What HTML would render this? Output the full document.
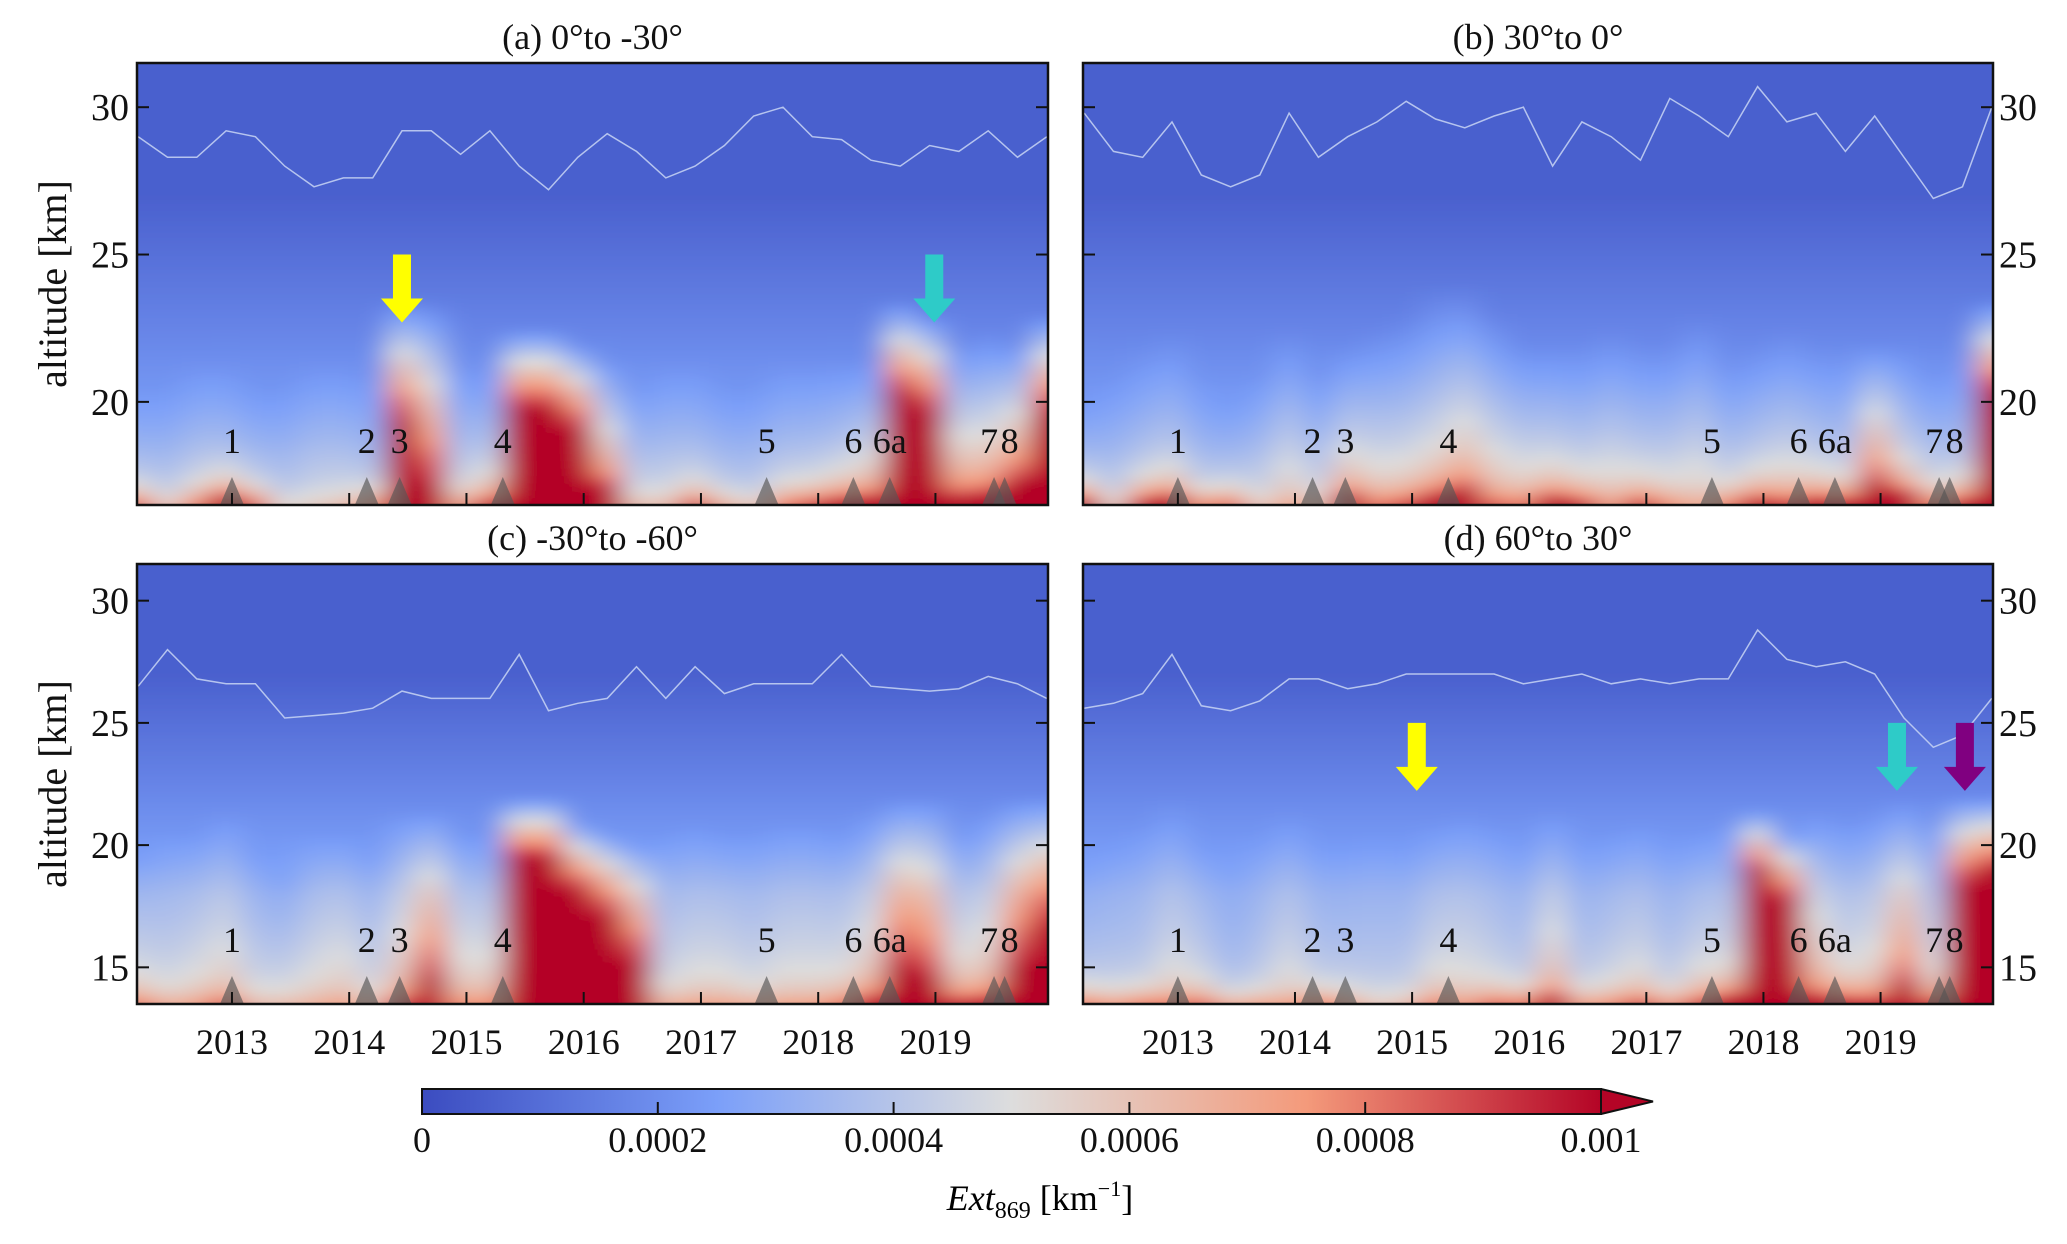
<!DOCTYPE html>
<html><head><meta charset="utf-8"><style>
html,body{margin:0;padding:0;background:#fff;}
svg{display:block;font-family:"Liberation Serif","DejaVu Serif",serif;}
</style></head><body>
<svg id="fig" width="2067" height="1244" viewBox="0 0 2067 1244">
<defs>
<filter id="blur" x="-5%" y="-5%" width="110%" height="110%"><feGaussianBlur stdDeviation="14 5"/></filter>
<linearGradient id="cbgrad" x1="0" x2="1" y1="0" y2="0">
<stop offset="0" stop-color="#3b4cc0"/><stop offset="0.25" stop-color="#7b9ff9"/><stop offset="0.5" stop-color="#dddddd"/><stop offset="0.75" stop-color="#f49a7b"/><stop offset="1" stop-color="#b40426"/>
</linearGradient>
</defs>
<g id="panels"></g>
<g id="colorbar">
<rect x="422" y="1089" width="1179" height="25" fill="url(#cbgrad)"/>
<polygon points="1601,1089 1653,1101.5 1601,1114" fill="#b40426"/>
<polyline points="1601,1089 1653,1101.5 1601,1114" fill="none" stroke="#111" stroke-width="2"/>
<rect x="422" y="1089" width="1179" height="25" fill="none" stroke="#111" stroke-width="2"/>
<text x="1040" y="1210" font-size="36" text-anchor="middle"><tspan font-style="italic">Ext</tspan><tspan font-size="24" dy="8">869</tspan><tspan dy="-8"> [km</tspan><tspan font-size="22" dy="-14">−1</tspan><tspan dy="14">]</tspan></text>
</g>
</svg>
<script>
const NS="http://www.w3.org/2000/svg";
// ---- data ----
const years=[2013,2014,2015,2016,2017,2018,2019];
const eventLabels=["1","2","3","4","5","6","6a","7","8"];
const eventTimes=[2013.0,2014.15,2014.43,2015.31,2017.56,2018.30,2018.61,2019.50,2019.59];
const cbTicks=[0,0.0002,0.0004,0.0006,0.0008,0.001];
const cbTickLabels=["0","0.0002","0.0004","0.0006","0.0008","0.001"];
const colT0=2012.2, colStep=0.25;
// panel a
const aSurf=[0.5,0.2,0.4,0.8,0.5,0.15,0.15,0.2,0.4,0.4,0.2,0.3,0.5,0.5,0.5,0.6,0.6,0.2,0.2,0.5,0.3,0.2,0.4,0.5,0.6,0.5,0.5,0.5,0.4,0.5,0.6,0.6];
const aPlume=[0.1,0.1,0.15,0.15,0.1,0.1,0.15,0.15,0.1,1.2,0.7,0.15,0.2,1.6,1.6,1.3,0.5,0.15,0.15,0.15,0.1,0.1,0.15,0.15,0.2,0.3,1.6,1.4,0.4,0.4,0.6,1.4];
const aHeight=[20.5,20.5,21.5,21.5,20.5,20.5,21.5,21.5,21,23.5,23.5,21.5,21.5,22.5,22.5,22,21.5,20.5,21.5,21.5,20.5,20.5,21.5,21.5,21.5,21.5,23.5,23,22,22.5,22,23];
const aLine=[29.0,28.3,28.3,29.2,29.0,28.0,27.3,27.6,27.6,29.2,29.2,28.4,29.2,28.0,27.2,28.3,29.1,28.5,27.6,28.0,28.7,29.7,30.0,29.0,28.9,28.2,28.0,28.7,28.5,29.2,28.3,29.0];
// panel b
const bSurf=[0.7,0.2,0.6,0.7,0.4,0.5,0.15,0.2,0.2,0.6,0.3,0.4,0.6,0.7,0.3,0.3,0.6,0.5,0.2,0.5,0.3,0.15,0.4,0.6,0.4,0.6,0.6,0.5,0.8,0.4,0.6,1.4];
const bPlume=[0.1,0.1,0.15,0.2,0.1,0.1,0.15,0.25,0.15,0.3,0.25,0.25,0.3,0.4,0.3,0.25,0.25,0.2,0.25,0.2,0.2,0.25,0.15,0.2,0.25,0.2,0.15,0.6,0.25,0.15,0.15,1.6];
const bHeight=[20,21,22,22.5,21,20,21,22.5,21,22,22.5,23,24,24,23,22,22,22,22.5,22,22,23,21.5,22,22.5,22,22,22,22,21,22,23.5];
const bLine=[29.8,28.5,28.3,29.5,27.7,27.3,27.7,29.8,28.3,29.0,29.5,30.2,29.6,29.3,29.7,30.0,28.0,29.5,29.0,28.2,30.3,29.7,29.0,30.7,29.5,29.8,28.5,29.7,28.3,26.9,27.3,30.0];
// panel c
const cSurf=[0.3,0.2,0.2,0.3,0.15,0.15,0.15,0.15,0.15,0.3,0.5,0.2,0.2,0.8,0.8,0.8,0.6,0.4,0.2,0.2,0.2,0.2,0.2,0.2,0.3,0.4,0.5,0.5,0.4,0.4,0.5,0.6];
const cPlume=[0.25,0.2,0.25,0.3,0.2,0.2,0.25,0.3,0.2,0.35,0.7,0.3,0.3,2.4,2.4,1.8,1.4,0.9,0.2,0.25,0.25,0.2,0.25,0.25,0.25,0.35,0.8,0.7,0.3,0.35,0.8,1.1];
const cHeight=[19.5,20.5,20.5,21.5,19.5,18.5,20.5,20.5,19.5,21.5,21.5,20.5,20.5,22,22,21,20.5,20,20.5,21,20.5,20.5,21,21,20.5,21.5,22,22,20.5,21.5,22,22];
const cLine=[26.5,28.0,26.8,26.6,26.6,25.2,25.3,25.4,25.6,26.3,26.0,26.0,26.0,27.8,25.5,25.8,26.0,27.3,26.0,27.3,26.2,26.6,26.6,26.6,27.8,26.5,26.4,26.3,26.4,26.9,26.6,26.0];
// panel d
const dSurf=[0.4,0.3,0.4,0.3,0.4,0.3,0.3,0.2,0.4,0.3,0.15,0.2,0.3,0.2,0.4,0.4,0.5,0.3,0.3,0.4,0.3,0.4,0.6,0.9,0.8,0.4,0.5,0.4,0.5,0.4,0.7,0.9];
const dPlume=[0.15,0.15,0.15,0.25,0.2,0.1,0.15,0.25,0.15,0.15,0.15,0.15,0.25,0.25,0.2,0.15,0.35,0.15,0.2,0.25,0.15,0.25,0.25,2.2,1.7,0.4,0.25,0.3,0.6,0.25,1.6,2.0];
const dHeight=[19,20,21,22,20,19,20.5,21.5,20,20,20.5,20,21,21.5,21,20,21.5,20,20.5,21,20,20.5,21,21.5,20.5,21.5,21,21.5,22,21,22,22];
const dLine=[25.6,25.8,26.2,27.8,25.7,25.5,25.9,26.8,26.8,26.4,26.6,27.0,27.0,27.0,27.0,26.6,26.8,27.0,26.6,26.8,26.6,26.8,26.8,28.8,27.6,27.3,27.5,27.0,25.2,24.0,24.5,26.0];

const panels=[
 {id:"a",title:"(a) 0°to -30°",x0:137,x1:1048,y0:63,y1:505,ymin:16.5,ymax:31.5,yt:[20,25,30],side:"left",surf:aSurf,plume:aPlume,height:aHeight,line:aLine,xlabels:false,
  arrows:[{t:2014.45,top:25.0,c:"#ffff00"},{t:2018.99,top:25.0,c:"#2ecbc8"}]},
 {id:"b",title:"(b) 30°to 0°",x0:1083,x1:1993,y0:63,y1:505,ymin:16.5,ymax:31.5,yt:[20,25,30],side:"right",surf:bSurf,plume:bPlume,height:bHeight,line:bLine,xlabels:false,arrows:[]},
 {id:"c",title:"(c) -30°to -60°",x0:137,x1:1048,y0:564,y1:1004,ymin:13.5,ymax:31.5,yt:[15,20,25,30],side:"left",surf:cSurf,plume:cPlume,height:cHeight,line:cLine,xlabels:true,arrows:[]},
 {id:"d",title:"(d) 60°to 30°",x0:1083,x1:1993,y0:564,y1:1004,ymin:13.5,ymax:31.5,yt:[15,20,25,30],side:"right",surf:dSurf,plume:dPlume,height:dHeight,line:dLine,xlabels:true,
  arrows:[{t:2015.04,top:25.0,c:"#ffff00"},{t:2019.14,top:25.0,c:"#2ecbc8"},{t:2019.72,top:25.0,c:"#800080"}]}
];
const tMin=2012.19,tMax=2019.96;
const stops=[[59,76,192],[123,159,249],[221,221,221],[244,154,123],[180,4,38]];
function cmap(v){let f=Math.max(0,Math.min(1,v/0.001))*4;let i=Math.min(3,Math.floor(f)),r=f-i;const a=stops[i],b=stops[i+1];
 return "rgb("+a.map((c,k)=>Math.round(c+(b[k]-c)*r)).join(",")+")";}
function mk(tag,attrs,parent){const e=document.createElementNS(NS,tag);for(const k in attrs)e.setAttribute(k,attrs[k]);parent.appendChild(e);return e;}
const root=document.getElementById("panels");
panels.forEach(p=>{
 const X=t=>p.x0+(t-tMin)/(tMax-tMin)*(p.x1-p.x0);
 const Y=a=>p.y1-(a-p.ymin)/(p.ymax-p.ymin)*(p.y1-p.y0);
 const g=mk("g",{},root);
 
 
 const cp=mk("clipPath",{id:"clip"+p.id},g);mk("rect",{x:p.x0,y:p.y0,width:p.x1-p.x0,height:p.y1-p.y0},cp);
 const hm=mk("g",{"clip-path":"url(#clip"+p.id+")"},g);
 
 
 const inner=mk("g",{filter:"url(#blur)"},hm);
 const n=p.surf.length, dz=0.25;
 for(let i=-2;i<n+2;i++){
  const k=Math.max(0,Math.min(n-1,i));
  const t=colT0+colStep*i;
  for(let a=p.ymin-1;a<p.ymax+1;a+=dz){
   const ac=a+dz/2, h=p.height[k];
   const rel=Math.max(0,ac-p.ymin);
   const bg=0.00006+0.00022*Math.max(0,Math.min(1,(27-ac)/9));
   const fr=rel/(h-p.ymin);
   const pl=fr<1?p.plume[k]*0.001*(1-fr):0;
   const sf=p.surf[k]*0.001*Math.exp(-rel/0.6);
   const v=bg+pl+sf;
   const r=mk("rect",{x:(X(t-colStep/2)-0.5).toFixed(1),y:(Y(a+dz)-0.5).toFixed(1),width:(X(t+colStep/2)-X(t-colStep/2)+1).toFixed(1),height:(Y(a)-Y(a+dz)+1).toFixed(1),fill:cmap(v)},inner);
   
   
  }
 }
 const pts=p.line.map((v,i)=>X(colT0+colStep*i).toFixed(1)+","+Y(v).toFixed(1)).join(" ");
 const pl=mk("polyline",{points:pts,fill:"none",stroke:"#c9d6f5","stroke-width":1.5,opacity:0.85},hm);
 
 
 eventTimes.forEach((t,i)=>{
  const x=X(t),yb=p.y1;
  const tr=mk("polygon",{points:(x-12)+","+yb+" "+x+","+(yb-28)+" "+(x+12)+","+yb,fill:"#555",opacity:0.65},g);
  
  
  const lx=eventLabels[i]==="7"?x-5:(eventLabels[i]==="8"?x+5:x);
  const tx=mk("text",{x:lx,y:p.y1-52,"font-size":36,"text-anchor":"middle",fill:"#111"},g);tx.textContent=eventLabels[i];
  
  
 });
 p.arrows.forEach(ar=>{
  const x=X(ar.t),yt=Y(ar.top);
  const ag=mk("polygon",{points:[[x-9,yt],[x+9,yt],[x+9,yt+44],[x+21,yt+44],[x,yt+68],[x-21,yt+44],[x-9,yt+44]].map(q=>q.join(",")).join(" "),fill:ar.c},g);
  
  
 });
 mk("rect",{x:p.x0,y:p.y0,width:p.x1-p.x0,height:p.y1-p.y0,fill:"none",stroke:"#111","stroke-width":2.5},g);
 p.yt.forEach(v=>{
  const y=Y(v);
  mk("line",{x1:p.x0,x2:p.x0+12,y1:y,y2:y,stroke:"#111","stroke-width":2},g);
  mk("line",{x1:p.x1-12,x2:p.x1,y1:y,y2:y,stroke:"#111","stroke-width":2},g);
  const tx=mk("text",{x:p.side==="left"?p.x0-8:p.x1+6,y:y+13,"font-size":38,"text-anchor":p.side==="left"?"end":"start",fill:"#111"},g);
  tx.textContent=v;
  
  
 });
 years.forEach(yr=>{
  const x=X(yr);
  mk("line",{x1:x,x2:x,y1:p.y1,y2:p.y1-12,stroke:"#111","stroke-width":2},g);
  if(p.xlabels){const tx=mk("text",{x:x,y:p.y1+50,"font-size":36,"text-anchor":"middle",fill:"#111"},g);tx.textContent=yr;
   
   }
 });
 const tt=mk("text",{x:(p.x0+p.x1)/2,y:p.y0-14,"font-size":36,"text-anchor":"middle",fill:"#111"},g);tt.textContent=p.title;
 
 
 if(p.side==="left"){
  const cy=(p.y0+p.y1)/2;
  const yl=mk("text",{x:0,y:0,"font-size":40,"text-anchor":"middle",fill:"#111",transform:"translate(66,"+cy+") rotate(-90)"},g);yl.textContent="altitude [km]";
  
  
 }
});
const cb=document.getElementById("colorbar");
cbTicks.forEach((v,i)=>{
 const x=422+v/0.001*1179;
 if(i>0)mk("line",{x1:x,x2:x,y1:1114,y2:1102,stroke:"#111","stroke-width":2},cb);
 const tx=mk("text",{x:x,y:1152,"font-size":36,"text-anchor":"middle",fill:"#111"},cb);tx.textContent=cbTickLabels[i];
 
 
});
</script>
</body></html>
